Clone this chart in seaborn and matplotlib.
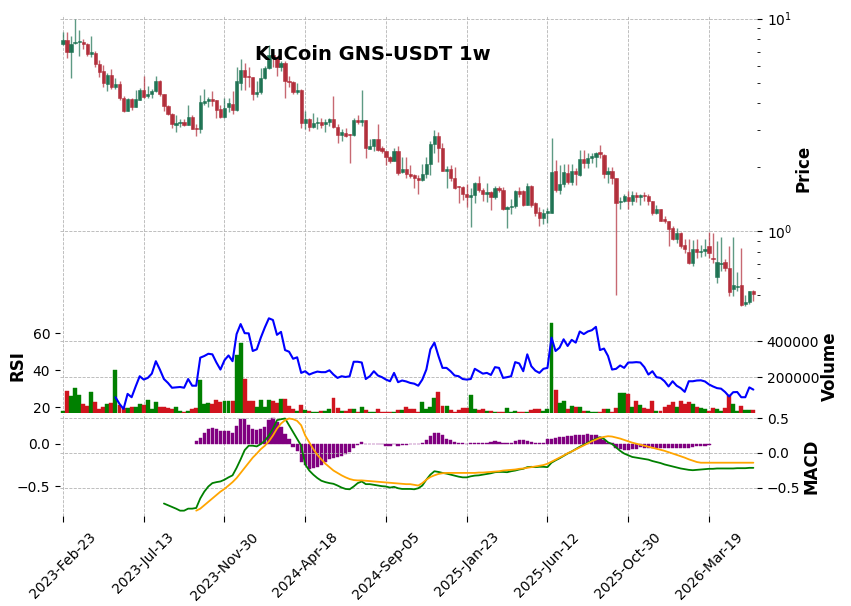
import numpy as np
import pandas as pd
import matplotlib
matplotlib.use("Agg")
import matplotlib.pyplot as plt
import seaborn as sns
from matplotlib.ticker import NullFormatter

# weekly KuCoin GNS-USDT candles, first week 2023-02-23
opens = [7.56, 7.93, 6.94, 7.65, 7.76, 7.79, 7.56, 6.79, 6.91, 6.11,
         5.68, 4.92, 5.44, 4.76, 4.94, 4.22, 3.69, 4.18, 3.85, 4.16,
         4.61, 4.32, 4.41, 4.54, 5.10, 4.41, 3.87, 3.55, 3.17, 3.24,
         3.27, 3.17, 3.45, 3.06, 3.01, 4.02, 4.09, 4.19, 4.13, 3.75,
         3.45, 3.82, 3.96, 3.73, 5.00, 5.72, 5.33, 5.29, 4.44, 4.52,
         5.25, 5.85, 6.74, 6.57, 5.89, 6.18, 5.06, 5.04, 4.49, 4.61,
         3.24, 3.36, 3.09, 3.21, 3.27, 3.18, 3.27, 3.35, 3.10, 2.84,
         2.89, 2.84, 2.82, 3.34, 3.27, 3.34, 2.43, 2.52, 2.71, 2.45,
         2.37, 2.24, 2.14, 2.38, 1.90, 1.95, 1.86, 1.84, 1.78, 1.73,
         1.86, 2.06, 2.56, 2.81, 2.45, 1.92, 1.96, 1.78, 1.62, 1.61,
         1.49, 1.44, 1.47, 1.68, 1.56, 1.49, 1.52, 1.44, 1.60, 1.56,
         1.27, 1.30, 1.31, 1.55, 1.55, 1.33, 1.63, 1.36, 1.23, 1.15,
         1.21, 1.22, 1.92, 1.56, 1.66, 1.88, 1.71, 1.92, 1.83, 2.19,
         2.10, 2.20, 2.24, 2.36, 2.29, 1.86, 1.92, 1.77, 1.37, 1.39,
         1.45, 1.39, 1.48, 1.44, 1.47, 1.46, 1.39, 1.22, 1.27, 1.14,
         1.11, 1.03, 0.913, 0.982, 0.86, 0.80, 0.709, 0.819, 0.80, 0.805,
         0.85, 0.75, 0.609, 0.70, 0.717, 0.667, 0.531, 0.545, 0.556, 0.455,
         0.464, 0.521]
highs = [8.62, 8.62, 8.28, 9.96, 8.84, 8.02, 7.68, 8.28, 7.04, 6.36,
         6.05, 5.56, 5.77, 5.23, 5.06, 4.32, 4.24, 4.24, 4.61, 4.69,
         5.35, 4.80, 4.66, 5.35, 5.14, 4.44, 3.91, 3.58, 3.51, 3.36,
         3.36, 3.91, 3.51, 3.18, 4.36, 4.66, 4.29, 4.56, 4.16, 3.94,
         4.24, 4.21, 4.56, 5.89, 6.45, 6.18, 5.89, 5.33, 5.08, 5.85,
         5.96, 7.51, 6.94, 6.69, 6.29, 6.29, 5.38, 5.10, 4.99, 4.64,
         3.68, 3.42, 3.58, 3.45, 3.40, 3.36, 3.40, 4.32, 3.18, 3.02,
         3.04, 2.86, 3.40, 3.51, 4.61, 3.34, 2.71, 2.72, 3.18, 2.52,
         2.38, 2.26, 2.45, 2.50, 2.22, 2.22, 2.05, 1.86, 1.84, 2.06,
         2.22, 2.66, 2.99, 2.94, 2.59, 2.03, 2.05, 2.00, 1.63, 1.63,
         1.67, 1.59, 1.71, 1.81, 1.59, 1.69, 1.54, 1.62, 1.63, 1.61,
         1.31, 1.42, 1.56, 1.61, 1.56, 1.69, 1.64, 1.37, 1.30, 1.27,
         1.29, 2.73, 2.16, 2.04, 2.06, 2.07, 2.07, 1.99, 2.40, 2.40,
         2.34, 2.34, 2.36, 2.54, 2.30, 2.00, 2.01, 1.78, 1.45, 1.50,
         1.55, 1.55, 1.52, 1.50, 1.52, 1.49, 1.39, 1.33, 1.27, 1.18,
         1.12, 1.05, 1.03, 0.99, 0.92, 0.92, 0.91, 0.92, 0.86, 0.92,
         0.99, 0.98, 0.90, 0.933, 0.735, 0.85, 0.933, 0.64, 0.83, 0.50,
         0.523, 0.53]
lows = [7.50, 6.52, 5.25, 7.60, 6.67, 7.19, 6.69, 6.62, 5.94, 5.33,
        4.78, 4.56, 4.64, 4.64, 4.16, 3.63, 3.66, 3.73, 3.82, 4.13,
        4.22, 4.22, 4.22, 4.51, 4.33, 3.68, 3.51, 3.04, 2.93, 3.09,
        3.12, 3.14, 3.01, 2.81, 2.88, 3.94, 3.82, 3.89, 3.42, 3.40,
        3.42, 3.62, 3.54, 3.68, 4.61, 4.61, 4.74, 4.13, 4.29, 4.44,
        5.20, 5.80, 5.94, 5.38, 5.68, 4.22, 4.74, 4.44, 4.41, 3.07,
        3.02, 2.96, 3.05, 3.02, 3.07, 2.94, 3.13, 3.04, 2.59, 2.66,
        2.76, 2.10, 2.80, 3.18, 3.13, 2.20, 2.43, 2.38, 2.38, 2.34,
        2.04, 2.10, 2.14, 1.84, 1.88, 1.78, 1.78, 1.59, 1.50, 1.72,
        1.78, 1.84, 2.32, 2.12, 1.91, 1.59, 1.72, 1.57, 1.35, 1.40,
        1.30, 1.04, 1.35, 1.52, 1.38, 1.37, 1.25, 1.42, 1.53, 1.25,
        1.03, 1.20, 1.28, 1.45, 1.31, 1.32, 1.30, 1.18, 1.06, 1.08,
        1.09, 1.21, 1.52, 1.50, 1.61, 1.66, 1.64, 1.64, 1.82, 1.97,
        1.98, 2.10, 2.00, 2.20, 1.77, 1.69, 1.67, 0.497, 1.27, 1.37,
        1.27, 1.33, 1.37, 1.33, 1.38, 1.32, 1.19, 1.20, 1.11, 1.09,
        0.85, 0.905, 0.881, 0.834, 0.79, 0.70, 0.684, 0.748, 0.755, 0.763,
        0.748, 0.709, 0.57, 0.648, 0.648, 0.494, 0.494, 0.52, 0.445, 0.445,
        0.455, 0.47]
closes = [7.93, 6.94, 7.60, 7.79, 7.79, 7.56, 6.79, 6.94, 6.11, 5.62,
          4.97, 5.44, 4.78, 4.92, 4.22, 3.68, 4.18, 3.82, 4.18, 4.61,
          4.29, 4.41, 4.57, 5.08, 4.44, 3.86, 3.55, 3.18, 3.23, 3.27,
          3.17, 3.45, 3.02, 3.01, 4.06, 4.10, 4.19, 4.10, 3.73, 3.45,
          3.79, 4.00, 3.73, 5.06, 5.72, 5.29, 5.29, 4.44, 4.52, 5.25,
          5.85, 6.74, 6.57, 5.89, 6.18, 5.06, 5.04, 4.49, 4.61, 3.24,
          3.36, 3.09, 3.21, 3.27, 3.16, 3.27, 3.35, 3.10, 2.84, 2.94,
          2.81, 2.82, 3.34, 3.27, 3.33, 2.45, 2.52, 2.71, 2.41, 2.37,
          2.22, 2.14, 2.38, 1.88, 1.95, 1.86, 1.82, 1.78, 1.73, 1.86,
          2.06, 2.56, 2.81, 2.45, 1.92, 1.96, 1.78, 1.60, 1.61, 1.49,
          1.44, 1.47, 1.68, 1.56, 1.49, 1.52, 1.44, 1.60, 1.56, 1.27,
          1.30, 1.31, 1.55, 1.50, 1.33, 1.63, 1.33, 1.21, 1.15, 1.21,
          1.24, 1.90, 1.56, 1.66, 1.90, 1.71, 1.92, 1.85, 2.19, 2.10,
          2.20, 2.26, 2.32, 2.31, 1.86, 1.92, 1.77, 1.35, 1.39, 1.46,
          1.39, 1.48, 1.44, 1.47, 1.46, 1.38, 1.21, 1.27, 1.12, 1.11,
          1.018, 0.913, 0.982, 0.85, 0.819, 0.709, 0.819, 0.80, 0.805, 0.825,
          0.79, 0.735, 0.717, 0.701, 0.667, 0.517, 0.556, 0.55, 0.447, 0.464,
          0.521, 0.505]
volumes = [13000, 120000, 92000, 140000, 101000, 51000, 39000, 118000, 62000, 22000,
           34000, 49000, 54000, 241000, 45000, 28000, 27000, 34000, 34000, 51000,
           45000, 73000, 22000, 60000, 34000, 34000, 28000, 22000, 34000, 11000,
           4000, 9000, 22000, 28000, 185000, 49000, 54000, 51000, 73000, 62000,
           68000, 68000, 68000, 320000, 391000, 191000, 69000, 69000, 34000, 73000,
           34000, 73000, 67000, 54000, 78000, 78000, 39000, 22000, 11000, 45000,
           17000, 11000, 7000, 4000, 11000, 11000, 22000, 84000, 28000, 11000,
           11000, 22000, 22000, 7000, 34000, 17000, 7000, 7000, 22000, 7000,
           7000, 4000, 4000, 17000, 17000, 34000, 22000, 22000, 7500, 62000,
           22000, 34000, 84000, 118000, 39000, 39000, 17000, 7500, 17000, 28000,
           28000, 101000, 22000, 17000, 22000, 11000, 11000, 4000, 4000, 7500,
           28000, 7500, 11000, 4000, 4000, 7500, 17000, 22000, 22000, 11000,
           22000, 500000, 129000, 54000, 67000, 22000, 39000, 34000, 34000, 11000,
           11000, 7500, 4000, 7500, 22000, 22000, 7500, 28000, 112000, 112000,
           107000, 34000, 67000, 45000, 28000, 22000, 67000, 11000, 11000, 34000,
           45000, 62000, 34000, 67000, 51000, 62000, 51000, 34000, 28000, 22000,
           11000, 28000, 22000, 11000, 28000, 101000, 51000, 11000, 39000, 17000,
           17000, 17000]

# indicators, each starting at its own week index
rsi_start = 13
rsi_vals = [25.5, 21.9, 19.2, 27.3, 25.5, 31.3, 36.8, 35.0, 35.9, 38.2,
            44.9, 40.4, 35.3, 33.2, 30.6, 30.8, 31.0, 30.6, 35.3, 31.7,
            31.7, 46.8, 47.7, 48.9, 48.6, 44.2, 40.4, 45.4, 48.0, 44.9,
            59.5, 64.9, 60.0, 59.9, 50.4, 51.3, 57.6, 63.1, 68.0, 67.1,
            59.1, 60.7, 50.9, 50.0, 46.2, 47.0, 38.6, 39.5, 37.7, 38.6,
            39.3, 39.0, 39.0, 40.0, 37.7, 35.9, 36.8, 36.4, 36.8, 44.6,
            44.6, 44.2, 35.3, 36.8, 39.5, 37.2, 36.3, 35.0, 34.1, 38.6,
            33.6, 34.5, 34.0,
            33.2, 32.8, 31.7, 35.0, 40.4, 51.3, 54.9, 47.7, 41.3, 41.3,
            39.5, 37.2, 36.8, 35.3, 35.0, 35.3, 40.8, 39.5, 38.2, 38.6,
            37.5, 41.7, 41.3, 35.9, 36.3, 36.8, 44.4, 43.7, 39.5, 48.6,
            42.2, 39.8, 38.6, 40.8, 41.3, 57.6, 50.4, 52.2, 56.7, 53.1,
            56.4, 54.9, 60.9, 59.5, 60.9, 61.6, 63.4, 50.9, 51.7, 47.7,
            40.4, 40.8, 42.6, 41.3, 44.2, 44.2, 44.4, 44.2, 41.7, 37.7,
            39.5, 36.3, 35.9, 34.1, 31.3, 34.1, 31.7, 30.4, 28.4, 34.1,
            34.1, 34.5, 34.6, 34.0, 32.4, 31.3, 30.4, 30.1, 28.3, 25.9,
            28.2, 28.3, 25.5, 25.5, 30.8, 29.6]

macd_start = 25
macd_vals = [-0.730, -0.755, -0.779, -0.804, -0.833, -0.833, -0.804, -0.804, -0.794, -0.657,
             -0.559, -0.485, -0.436, -0.422, -0.412, -0.387, -0.353, -0.324, -0.216, -0.093,
             0.039, 0.103, 0.103, 0.093, 0.127, 0.176, 0.250, 0.348, 0.471, 0.485,
             0.495, 0.397, 0.299, 0.201, 0.103, -0.167, -0.255, -0.314, -0.363, -0.402,
             -0.422, -0.436, -0.446, -0.471, -0.500, -0.520, -0.525, -0.485, -0.436, -0.412,
             -0.451, -0.451, -0.461, -0.471, -0.480, -0.485, -0.500, -0.490, -0.510, -0.520,
             -0.520,
             -0.520, -0.525, -0.510, -0.471, -0.387, -0.314, -0.265, -0.275, -0.289, -0.299,
             -0.314, -0.328, -0.343, -0.353, -0.353, -0.338, -0.328, -0.324, -0.314, -0.304,
             -0.294, -0.279, -0.275, -0.275, -0.279, -0.265, -0.255, -0.240, -0.230, -0.206,
             -0.201, -0.206, -0.201, -0.201, -0.206, -0.142, -0.108, -0.078, -0.044, -0.010,
             0.020, 0.054, 0.088, 0.118, 0.147, 0.176, 0.201, 0.225, 0.201, 0.152,
             0.127, 0.078, 0.029, -0.010, -0.034, -0.059, -0.069, -0.078, -0.088, -0.098,
             -0.118, -0.132, -0.147, -0.167, -0.181, -0.196, -0.211, -0.225, -0.235, -0.245,
             -0.250, -0.245, -0.240, -0.235, -0.230, -0.230, -0.225, -0.225, -0.225, -0.225,
             -0.225, -0.221, -0.221, -0.221, -0.216, -0.216]

signal_start = 33
signal_vals = [-0.833, -0.804, -0.755, -0.706, -0.657, -0.608, -0.559, -0.520, -0.471, -0.422,
               -0.363, -0.289, -0.216, -0.142, -0.069, -0.010, 0.054, 0.103, 0.167, 0.250,
               0.348, 0.422, 0.471, 0.495, 0.485, 0.461, 0.397, 0.250, 0.152, 0.054,
               -0.029, -0.093, -0.157, -0.206, -0.255, -0.289, -0.324, -0.353, -0.377, -0.392,
               -0.397, -0.397, -0.402, -0.407, -0.412, -0.417, -0.422, -0.426, -0.431, -0.436,
               -0.441, -0.446, -0.451,
               -0.451, -0.461, -0.471, -0.436, -0.387, -0.348, -0.324, -0.304, -0.294, -0.289,
               -0.289, -0.289, -0.289, -0.289, -0.289, -0.289, -0.289, -0.284, -0.284, -0.279,
               -0.275, -0.270, -0.265, -0.255, -0.250, -0.245, -0.240, -0.230, -0.225, -0.216,
               -0.206, -0.196, -0.186, -0.176, -0.157, -0.127, -0.098, -0.069, -0.039, -0.005,
               0.020, 0.049, 0.078, 0.108, 0.137, 0.167, 0.191, 0.216, 0.230, 0.240,
               0.235, 0.221, 0.206, 0.186, 0.167, 0.147, 0.132, 0.118, 0.103, 0.088,
               0.074, 0.059, 0.044, 0.029, 0.010, -0.010, -0.029, -0.049, -0.069, -0.093,
               -0.113, -0.132, -0.142, -0.142, -0.142, -0.142, -0.142, -0.142, -0.142, -0.142,
               -0.142, -0.142, -0.142, -0.142, -0.142, -0.142]

hist_start = 33
hist_vals = [0.030, 0.067, 0.127, 0.167, 0.187, 0.167, 0.143, 0.143, 0.143, 0.127,
             0.206, 0.286, 0.286, 0.214, 0.175, 0.159, 0.175, 0.198, 0.270, 0.294,
             0.246, 0.198, 0.107, 0.048, -0.040, -0.091, -0.210, -0.250, -0.298, -0.290,
             -0.270, -0.250, -0.210, -0.183, -0.171, -0.151, -0.143, -0.119, -0.103, -0.052,
             -0.012, 0.020, -0.004, -0.008, -0.008, -0.008, -0.008, -0.032, -0.032, -0.008,
             -0.032, -0.016, -0.016,
             -0.008, -0.008, -0.004, 0.008, 0.036, 0.087, 0.127, 0.127, 0.095, 0.056,
             0.036, 0.016, 0.008, 0.004, -0.004, 0.002, 0.004, 0.008, 0.008, 0.012,
             0.016, 0.032, 0.016, 0.008, 0.008, 0.008, 0.028, 0.036, 0.040, 0.028,
             0.020, 0.008, 0.008, 0.008, 0.052, 0.056, 0.063, 0.071, 0.079, 0.087,
             0.087, 0.095, 0.099, 0.103, 0.107, 0.103, 0.095, 0.071, 0.036, 0.008,
             0.002, -0.052, -0.063, -0.071, -0.071, -0.060, -0.063, -0.044, -0.052, -0.052,
             -0.052, -0.052, -0.052, -0.052, -0.052, -0.052, -0.052, -0.052, -0.052, -0.052,
             -0.044, -0.032, -0.032, -0.024, -0.012]

tick_labels = ["2023-Feb-23", "2023-Jul-13", "2023-Nov-30", "2024-Apr-18", "2024-Sep-05",
               "2025-Jan-23", "2025-Jun-12", "2025-Oct-30", "2026-Mar-19"]

# -------------------------------------------------------------
sns.set_style("white", rc={"text.color": "black", "axes.labelcolor": "black",
                           "xtick.color": "black", "ytick.color": "black"})

df = pd.DataFrame(dict(open=opens, high=highs, low=lows, close=closes, volume=volumes))
df["week"] = np.arange(len(df))
df["up"] = df["close"] >= df["open"]

rsi_df = pd.DataFrame({"week": np.arange(len(rsi_vals)) + rsi_start, "rsi": rsi_vals})
macd_df = pd.DataFrame({"week": np.arange(len(macd_vals)) + macd_start, "macd": macd_vals})
sig_df = pd.DataFrame({"week": np.arange(len(signal_vals)) + signal_start, "signal": signal_vals})
hist_weeks = np.arange(len(hist_vals)) + hist_start

W, H = 851, 606
def box(l, t, r, b):
    return [l / W, 1 - b / H, (r - l) / W, (b - t) / H]

fig = plt.figure(figsize=(8.51, 6.06), dpi=100)
ax_p = fig.add_axes(box(60, 15, 757, 311))
ax_v = fig.add_axes(box(60, 312, 757, 413), sharex=ax_p)
ax_m = fig.add_axes(box(60, 414, 757, 516), sharex=ax_p)

grid_kw = dict(linestyle="--", linewidth=0.6, color="#b4b4b4")

# price candles
cols = np.where(df["up"], "#1a7050", "#b02a37")
ax_p.vlines(df["week"], df["low"], df["high"], colors=cols, linewidth=1.0, alpha=0.7)
body_lo = np.minimum(df["open"], df["close"])
body_h = np.maximum(np.abs(df["close"] - df["open"]), 0.01 * body_lo)
ax_p.bar(df["week"], body_h, bottom=body_lo, width=0.8, color=cols, alpha=0.95,
         edgecolor=cols, linewidth=0.4)
ax_p.set_yscale("log")
ax_p.set_ylim(0.42, 10.4)
ax_p.yaxis.tick_right()
ax_p.yaxis.set_minor_formatter(NullFormatter())
ax_p.grid(axis="y", which="major", **grid_kw)

# volume + RSI
vcols = np.where(df["up"], "#008000", "#d0141e")
ax_v.bar(df["week"], df["volume"], width=0.98, color=vcols, edgecolor=vcols, linewidth=0.3)
ax_v.set_ylim(0, 562000)
ax_r = ax_v.twinx()
sns.lineplot(data=rsi_df, x="week", y="rsi", ax=ax_r, color="blue", linewidth=1.5)
ax_r.set_ylim(17.0, 71.4)
ax_r.set_yticks([20, 40, 60])
ax_r.yaxis.tick_left()
ax_v.yaxis.tick_right()
ax_v.set_yticks([200000, 400000])
ax_v.grid(axis="y", **grid_kw)

# MACD
ax_m.bar(hist_weeks, hist_vals, width=0.8, color="purple", edgecolor="purple", linewidth=0.3)
ax_m.set_ylim(-0.845, 0.345)
ax_m.set_yticks([-0.5, 0.0])
ax_l = ax_m.twinx()
sns.lineplot(data=macd_df, x="week", y="macd", ax=ax_l, color="green", linewidth=1.3)
sns.lineplot(data=sig_df, x="week", y="signal", ax=ax_l, color="orange", linewidth=1.3)
ax_l.set_ylim(-0.91, 0.56)
ax_l.set_yticks([-0.5, 0.0, 0.5])
ax_l.grid(axis="y", **grid_kw)

for ax in (ax_p, ax_v, ax_m):
    ax.grid(axis="x", **grid_kw)
for ax in (ax_p, ax_v, ax_m, ax_r, ax_l):
    for s in ax.spines.values():
        s.set_visible(False)
    ax.set_xlabel("")
    ax.set_ylabel("")
    ax.tick_params(axis="y", which="major", length=3.5, width=0.8, labelsize=10)
    ax.tick_params(axis="y", which="minor", length=2, width=0.6)
    ax.set_axisbelow(True)

ax_m.set_xticks(np.arange(0, 20 * len(tick_labels), 20))
ax_m.set_xticklabels(tick_labels, rotation=45, ha="center")
ax_m.tick_params(axis="x", bottom=True, length=4, width=0.8, labelsize=10, pad=6)
for ax in (ax_p, ax_v, ax_r, ax_l):
    ax.tick_params(axis="x", bottom=False, labelbottom=False)
ax_p.set_xlim(-0.74, 171.9)

fig.text(373 / W, 1 - 54 / H, "KuCoin GNS-USDT 1w", fontsize=14, fontweight="bold",
         ha="center", va="center")
fig.text(804 / W, 1 - 168 / H, "Price", rotation=90, fontsize=12, fontweight="bold",
         ha="center", va="center")
fig.text(830 / W, 1 - 366 / H, "Volume", rotation=90, fontsize=12, fontweight="bold",
         ha="center", va="center")
fig.text(812 / W, 1 - 466 / H, "MACD", rotation=90, fontsize=12, fontweight="bold",
         ha="center", va="center")
fig.text(18 / W, 1 - 366 / H, "RSI", rotation=90, fontsize=12, fontweight="bold",
         ha="center", va="center")

fig.savefig("out.png", dpi=100)
